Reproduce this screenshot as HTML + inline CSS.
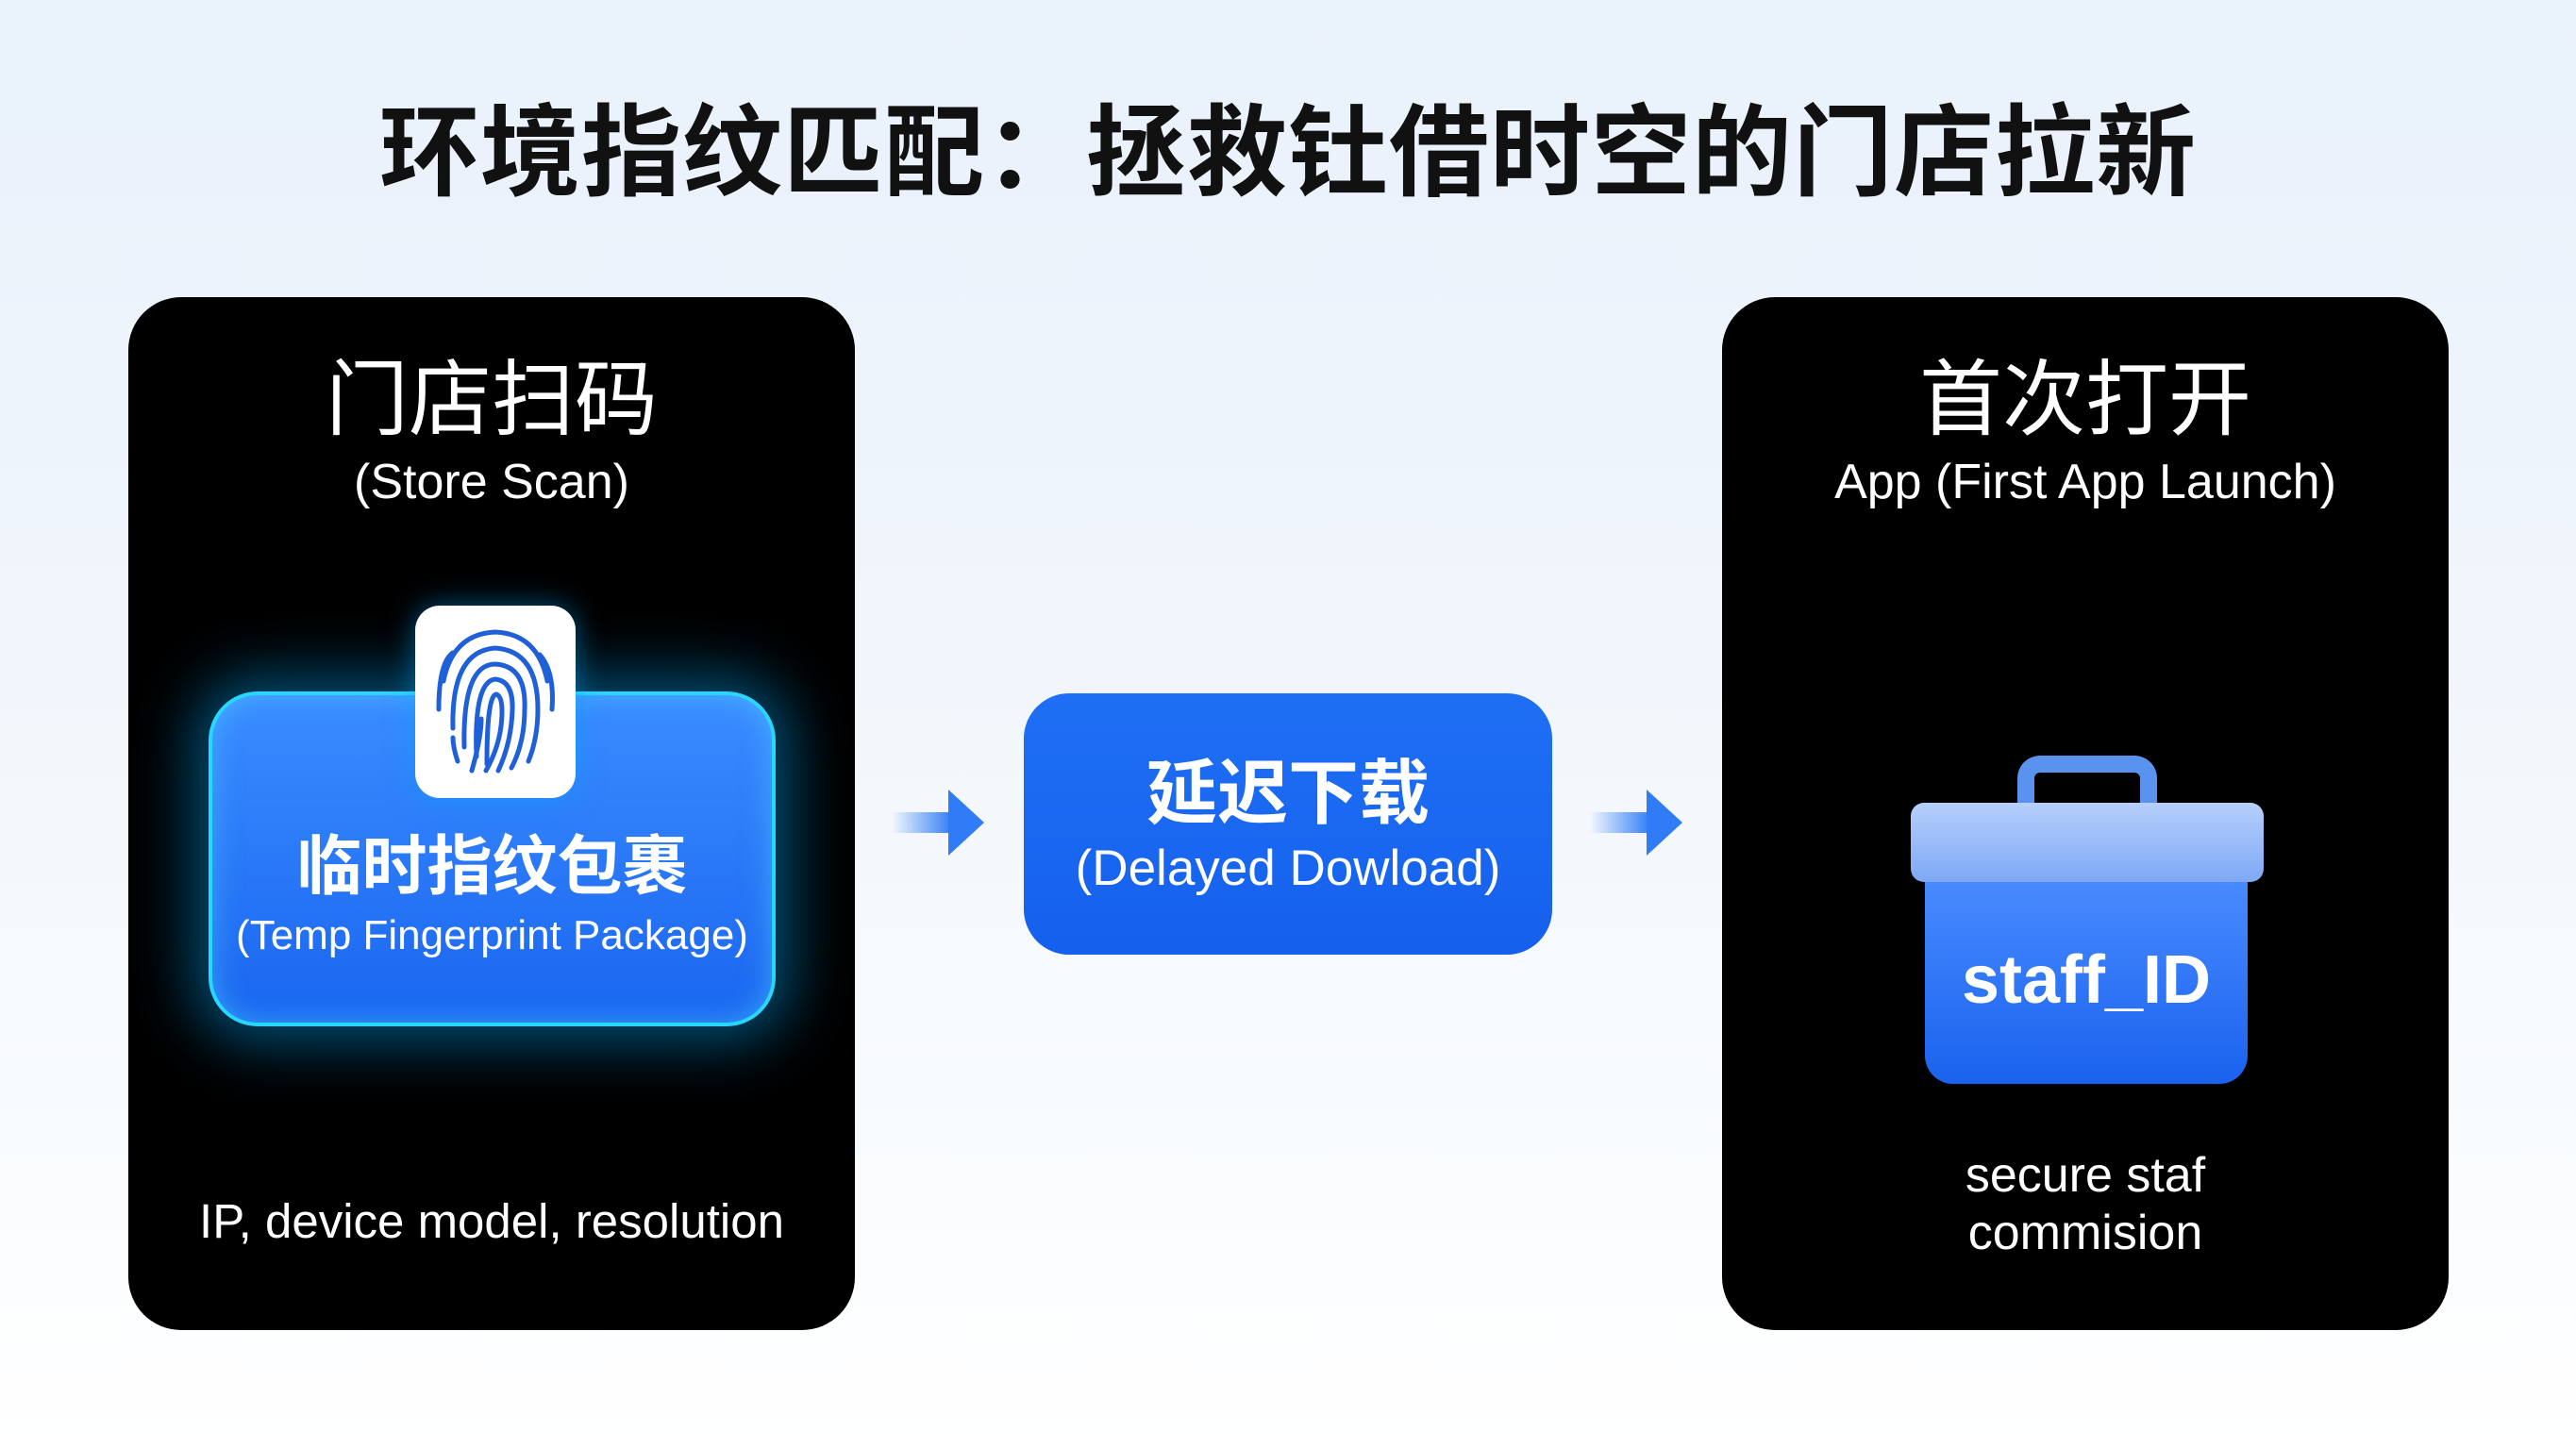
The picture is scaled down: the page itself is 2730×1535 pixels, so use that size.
<!DOCTYPE html>
<html><head><meta charset="utf-8"><style>
*{margin:0;padding:0;box-sizing:border-box}
html,body{width:2730px;height:1535px;overflow:hidden}
body{position:relative;background:linear-gradient(180deg,#e9f1fb 0%,#f1f6fc 45%,#f8fbfe 75%,#ffffff 100%);font-family:"Liberation Sans","Noto Sans CJK SC",sans-serif}
.abs{position:absolute}
.t{position:absolute;text-align:center;white-space:nowrap;line-height:1}
.panel{position:absolute;top:315px;width:770px;height:1095px;background:#000;border-radius:56px}
</style></head><body>
<div class="t" style="left:0;width:2730px;top:110px;font-size:106px;font-weight:bold;color:#111;letter-spacing:1px">环境指纹匹配：拯救钍借时空的门店拉新</div>

<div class="panel" style="left:136px"></div>
<div class="t" style="left:136px;width:770px;top:380px;font-size:88px;color:#fff">门店扫码</div>
<div class="t" style="left:136px;width:770px;top:485px;font-size:52px;color:#fff">(Store Scan)</div>
<div class="abs" style="left:221px;top:733px;width:601px;height:355px;border-radius:52px;background:linear-gradient(180deg,#3b8cff,#1a66f0);border:4px solid #29d6ff;box-shadow:0 0 60px 18px rgba(0,170,255,0.45),inset 0 0 30px rgba(80,220,255,0.5)"></div>
<div class="abs" style="left:440px;top:642px;width:170px;height:204px;border-radius:26px;background:#fff;box-shadow:0 0 30px rgba(0,170,255,0.5)"></div>
<svg class="abs" style="left:440px;top:642px" width="170" height="204" viewBox="0 0 170 204" fill="none" stroke="#1f5fd8" stroke-width="5" stroke-linecap="round">
<path d="M30 80 Q40 30 85 28 Q130 30 140 80"/>
<path d="M25 110 Q25 60 40 50"/>
<path d="M145 110 Q148 70 132 52"/>
<path d="M40 130 Q38 48 85 45 Q130 48 130 110 Q130 140 120 165"/>
<path d="M52 150 Q50 62 85 62 Q118 64 116 110 Q116 145 102 172"/>
<path d="M65 160 Q62 80 85 78 Q104 80 103 110 Q102 145 88 175"/>
<path d="M76 168 Q76 95 86 94 Q92 96 92 112 Q92 145 75 175"/>
<path d="M45 165 Q40 150 40 140"/>
<path d="M60 175 Q70 140 70 120"/>
</svg>
<div class="t" style="left:221px;width:601px;top:884px;font-size:69px;font-weight:bold;color:#fff">临时指纹包裹</div>
<div class="t" style="left:221px;width:601px;top:970px;font-size:44px;color:#fff">(Temp Fingerprint Package)</div>
<div class="t" style="left:136px;width:770px;top:1269px;font-size:51px;color:#fff">IP, device model, resolution</div>

<svg class="abs" style="left:945px;top:835px" width="100" height="75"><defs><linearGradient id="a" x1="0" x2="1"><stop offset="0" stop-color="#2f7cf6" stop-opacity="0"/><stop offset="1" stop-color="#2f7cf6"/></linearGradient></defs><rect x="0" y="26" width="65" height="22" fill="url(#a)"/><polygon points="60,2 98,37 60,72" fill="#2f7cf6"/></svg>
<div class="abs" style="left:1085px;top:735px;width:560px;height:277px;border-radius:48px;background:linear-gradient(180deg,#1f6ff5,#1560ec)"></div>
<div class="t" style="left:1085px;width:560px;top:804px;font-size:75px;font-weight:bold;color:#fff">延迟下载</div>
<div class="t" style="left:1085px;width:560px;top:894px;font-size:53px;color:#fff">(Delayed Dowload)</div>
<svg class="abs" style="left:1685px;top:835px" width="100" height="75"><rect x="0" y="26" width="65" height="22" fill="url(#a)"/><polygon points="60,2 98,37 60,72" fill="#2f7cf6"/></svg>

<div class="panel" style="left:1825px"></div>
<div class="t" style="left:1825px;width:770px;top:380px;font-size:88px;color:#fff">首次打开</div>
<div class="t" style="left:1825px;width:770px;top:485px;font-size:52px;color:#fff">App (First App Launch)</div>
<div class="abs" style="left:2138px;top:801px;width:148px;height:80px;border:18px solid #5a92f0;border-bottom:none;border-radius:24px 24px 0 0"></div>
<div class="abs" style="left:2040px;top:925px;width:342px;height:224px;border-radius:0 0 30px 30px;background:linear-gradient(180deg,#4a8cff,#1a62ee)"></div>
<div class="abs" style="left:2025px;top:851px;width:374px;height:84px;border-radius:14px;background:linear-gradient(180deg,#b6cffb,#7ea8f5)"></div>
<div class="t" style="left:2040px;width:342px;top:1003px;font-size:72px;font-weight:bold;color:#fff">staff_ID</div>
<div class="t" style="left:1825px;width:770px;top:1220px;font-size:52px;color:#fff">secure staf</div>
<div class="t" style="left:1825px;width:770px;top:1281px;font-size:52px;color:#fff">commision</div>
</body></html>
